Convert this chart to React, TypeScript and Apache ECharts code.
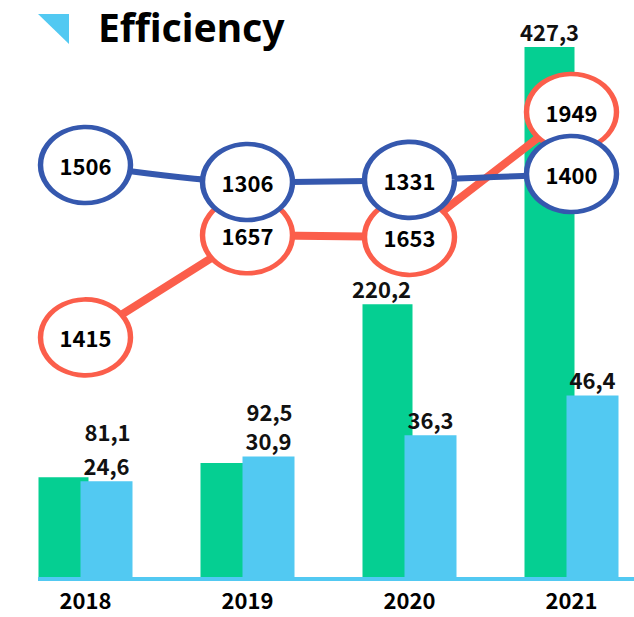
import { useEffect, useRef } from 'react';
import * as echarts from 'echarts';

// Years on the category axis
const years = ['2018', '2019', '2020', '2021'];
// Bar series (decimal values, shown with a comma separator)
const greenValues = [81.1, 92.5, 220.2, 427.3];
const skyValues = [24.6, 30.9, 36.3, 46.4];
// Line series drawn as ringed bubbles
const redLineValues = [1415, 1657, 1653, 1949];
const blueLineValues = [1506, 1306, 1331, 1400];

const GREEN = '#05CF92';
const SKY = '#52C9F2';
const RED = '#FB5E4B';
const NAVY = '#3558AE';
const NUM_FONT = '"Noto Sans CJK SC", "Noto Sans", sans-serif';

const commaDecimal = (p: any) => String(p.value).replace('.', ',');

export default function App() {
  const ref = useRef<HTMLDivElement>(null);

  useEffect(() => {
    document.body.style.margin = '0';
    if (!ref.current) return;
    const chart = echarts.init(ref.current, null, { renderer: 'svg' });

    // label nudges for the green bars so they clear neighbouring labels
    const greenLabelShift = [
      [44, -30],
      [44, -36],
      [-6, 0],
      [0, 0],
    ];

    const barLabel = {
      show: true,
      position: 'top',
      distance: 5,
      formatter: commaDecimal,
      color: '#111',
      fontSize: 22,
      fontWeight: 'bold',
      fontFamily: NUM_FONT,
    };

    const bubbleLabel = {
      show: true,
      position: 'inside',
      color: '#000',
      fontSize: 22,
      fontWeight: 'bold',
      fontFamily: NUM_FONT,
    };

    chart.setOption({
      animation: false,
      backgroundColor: '#fff',
      title: {
        text: 'Efficiency',
        left: 98,
        top: 7,
        padding: 0,
        textStyle: {
          fontSize: 39,
          fontWeight: 'bold',
          fontFamily: '"Noto Sans", "Open Sans", sans-serif',
          color: '#000',
        },
      },
      graphic: [
        {
          type: 'polygon',
          shape: { points: [[38, 14], [69, 14], [69, 44]] },
          style: { fill: SKY },
        },
        {
          type: 'rect',
          shape: { x: 38, y: 577, width: 600, height: 4 },
          style: { fill: SKY },
          z: 10,
        },
      ],
      grid: {
        left: 4.5,
        top: 47,
        width: 648,
        bottom: 39,
        outerBoundsMode: 'none',
      },
      xAxis: {
        type: 'category',
        data: years,
        axisLine: { show: false },
        axisTick: { show: false },
        splitLine: { show: false },
        axisLabel: {
          margin: 10,
          color: '#000',
          fontSize: 22,
          lineHeight: 22,
          fontWeight: 'bold',
          fontFamily: NUM_FONT,
        },
      },
      yAxis: [
        { type: 'value', min: 0, max: 427.3, show: false, splitLine: { show: false } },
        { type: 'value', min: 0, max: 135, show: false, splitLine: { show: false } },
        { type: 'value', min: 845, max: 2103, show: false, splitLine: { show: false } },
        { type: 'value', min: -3355, max: 2895, show: false, splitLine: { show: false } },
      ],
      series: [
        {
          type: 'bar',
          yAxisIndex: 0,
          barWidth: 50,
          itemStyle: { color: GREEN },
          label: barLabel,
          emphasis: { disabled: true },
          data: greenValues.map((v, i) => ({
            value: v,
            label: { offset: greenLabelShift[i] },
          })),
          z: 2,
        },
        {
          type: 'bar',
          yAxisIndex: 1,
          barWidth: 52,
          barGap: '-16%',
          itemStyle: { color: SKY },
          label: barLabel,
          emphasis: { disabled: true },
          data: skyValues,
          z: 2,
        },
        {
          type: 'line',
          yAxisIndex: 2,
          data: redLineValues,
          symbol: 'circle',
          symbolSize: [90, 76],
          showAllSymbol: true,
          lineStyle: { color: RED, width: 8 },
          itemStyle: { color: '#fff', borderColor: RED, borderWidth: 5 },
          label: bubbleLabel,
          emphasis: { disabled: true },
          z: 3,
        },
        {
          type: 'line',
          yAxisIndex: 3,
          data: blueLineValues,
          smooth: 0.3,
          symbol: 'circle',
          symbolSize: [90, 76],
          showAllSymbol: true,
          lineStyle: { color: NAVY, width: 6 },
          itemStyle: { color: '#fff', borderColor: NAVY, borderWidth: 5 },
          label: bubbleLabel,
          emphasis: { disabled: true },
          z: 4,
        },
      ],
    });

    return () => chart.dispose();
  }, []);

  return <div ref={ref} style={{ width: 634, height: 617 }} />;
}
